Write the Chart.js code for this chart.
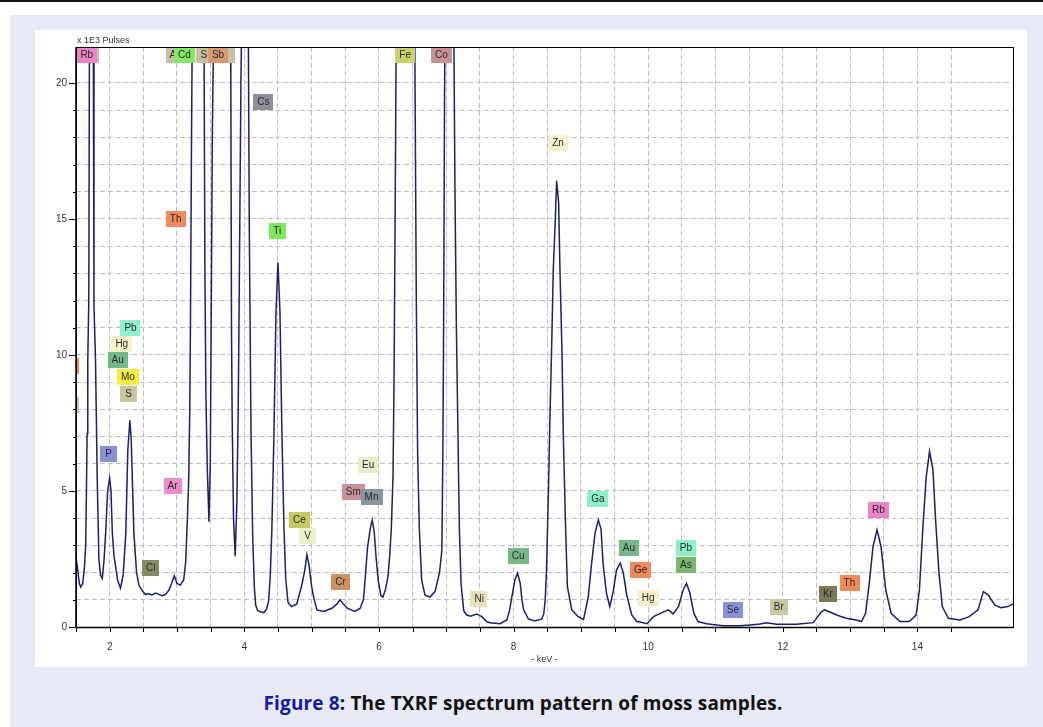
<!DOCTYPE html>
<html><head><meta charset="utf-8">
<script src="https://cdn.jsdelivr.net/npm/chart.js@4.4.1/dist/chart.umd.min.js"></script>
<style>
html,body{margin:0;padding:0;background:#fff;width:1043px;height:727px;overflow:hidden;}
#topline{position:absolute;left:0;top:0;width:1043px;height:2px;background:#111;}
#panel{position:absolute;left:10px;top:15px;width:1033px;height:712px;background:#e7eaf6;}
#box{position:absolute;left:35px;top:30px;width:992px;height:637px;background:#fff;}
#cap{position:absolute;left:0;width:1046px;top:690px;text-align:center;font:bold 19px "Open Sans";letter-spacing:0.15px;color:#111;}
#cap span{color:#1a1aa0}
</style></head>
<body>
<div id="topline"></div>
<div id="panel"></div>
<div id="box"><canvas id="c" width="992" height="637"></canvas></div>
<div id="cap"><span>Figure 8</span>: The TXRF spectrum pattern of moss samples.</div>
<script>
// Spectrum: energy (keV) and intensity (x 1E3 pulses); tall peaks run off the top of the plot
const energyKeV = [
 1.51,1.53,1.55,1.57,1.60,1.625,1.644,1.655,1.665,1.675,1.69,1.70,1.735,1.757,1.767,1.79,1.815,1.84,1.865,1.89,
 1.915,1.94,1.97,2.00,2.02,2.04,2.065,2.09,2.12,2.16,2.20,2.24,2.27,2.30,2.32,2.36,2.40,2.435,2.48,2.53,
 2.58,2.63,2.68,2.73,2.78,2.83,2.88,2.92,2.96,3.00,3.05,3.10,3.13,3.155,3.175,3.19,3.20,3.215,3.23,3.31,
 3.40,3.415,3.43,3.45,3.475,3.495,3.51,3.525,3.55,3.69,3.79,3.80,3.81,3.82,3.84,3.865,3.89,3.91,3.925,3.95,
 3.97,4.01,4.06,4.075,4.10,4.125,4.15,4.17,4.20,4.25,4.29,4.33,4.36,4.385,4.41,4.44,4.47,4.50,4.53,4.56,
 4.59,4.615,4.65,4.70,4.78,4.86,4.90,4.93,4.96,5.00,5.03,5.08,5.18,5.30,5.38,5.42,5.47,5.53,5.64,5.72,
 5.77,5.80,5.83,5.87,5.90,5.93,5.96,5.99,6.03,6.06,6.10,6.135,6.16,6.185,6.21,6.225,6.24,6.26,6.40,6.53,
 6.555,6.575,6.60,6.635,6.685,6.76,6.835,6.90,6.935,6.95,6.96,6.975,6.985,7.05,7.11,7.13,7.15,7.17,7.195,7.22,
 7.26,7.30,7.36,7.45,7.53,7.60,7.65,7.80,7.90,7.94,7.975,8.02,8.06,8.10,8.125,8.15,8.22,8.32,8.42,8.45,
 8.47,8.49,8.52,8.54,8.57,8.59,8.62,8.64,8.67,8.69,8.72,8.74,8.77,8.80,8.865,8.96,9.04,9.11,9.16,9.21,
 9.26,9.30,9.33,9.38,9.43,9.48,9.53,9.585,9.63,9.68,9.73,9.755,9.83,9.88,9.98,10.08,10.18,10.30,10.37,10.45,
 10.52,10.57,10.62,10.68,10.74,10.87,11.02,11.11,11.36,11.51,11.66,11.76,11.91,12.20,12.45,12.52,12.57,12.62,12.70,12.80,
 12.94,13.09,13.17,13.23,13.29,13.34,13.40,13.46,13.53,13.61,13.74,13.88,13.98,14.03,14.08,14.13,14.18,14.23,14.27,14.32,
 14.37,14.46,14.63,14.77,14.90,14.98,15.05,15.15,15.24,15.34,15.42
];
const pulses1E3 = [
 2.4,2.0,1.6,1.47,1.6,2.2,3.0,5.0,7.1,9.8,12.0,22,38,22,11.8,9.8,5.5,2.5,1.9,1.79,
 2.4,3.44,5.0,5.47,5.0,3.44,2.6,2.2,1.7,1.43,1.9,3.44,6.5,7.6,6.9,3.44,2.0,1.54,1.35,1.2,
 1.22,1.18,1.25,1.2,1.15,1.2,1.35,1.6,1.88,1.6,1.54,1.73,2.4,4.0,5.5,8.0,11.0,17.5,23,45,
 23,13.1,8.5,5.9,3.87,6.0,11.9,18,23,85,23,20.2,11,7.7,4.0,2.6,4.6,8.0,12.3,20,
 24,32,22,14.5,7.2,3.3,1.44,0.8,0.6,0.55,0.53,0.65,0.93,1.8,3.6,7.0,11.5,13.4,11.6,7.0,
 3.6,1.8,0.9,0.75,0.85,1.6,2.1,2.65,2.3,1.5,1.1,0.63,0.57,0.69,0.85,1.0,0.85,0.69,0.57,0.68,
 1.0,1.9,2.9,3.6,3.93,3.5,2.5,1.7,1.15,1.1,1.4,1.86,2.6,3.66,5.59,9.2,14.7,23,60,23,
 12.2,6.4,3.66,1.72,1.17,1.1,1.31,2.0,2.8,6.4,10.5,19.5,23,30,23,16,11.2,7.8,3.66,1.6,
 0.6,0.45,0.4,0.48,0.38,0.2,0.16,0.12,0.26,0.6,1.11,1.73,1.97,1.6,1.0,0.63,0.3,0.22,0.3,0.5,
 0.98,2.1,5.16,7.6,10.7,13.1,14.96,16.4,15.6,13.1,10.1,7.0,3.93,1.48,0.63,0.38,0.28,1.11,2.34,3.44,
 3.93,3.6,2.34,1.24,0.75,1.3,2.1,2.35,2.0,1.2,0.7,0.45,0.2,0.18,0.12,0.38,0.5,0.63,0.48,0.75,
 1.36,1.6,1.24,0.5,0.2,0.12,0.07,0.05,0.05,0.07,0.11,0.16,0.1,0.1,0.16,0.38,0.55,0.63,0.55,0.44,
 0.32,0.26,0.2,0.5,1.73,2.95,3.57,2.95,1.36,0.5,0.2,0.2,0.44,1.36,3.6,5.5,6.45,5.8,3.93,2.0,
 0.75,0.32,0.26,0.38,0.63,1.3,1.18,0.8,0.71,0.75,0.85
];

// Element tags (name, energy keV, level in 1E3 pulses), drawn in this order
const tagNames = ['Si','Rb','Ag','Cd','Sn','I','Sb','Cs','Th','Ti','Pb','Hg','Au','Mo','S','K','Al','P','Ar','Cl',
 'Eu','Sm','Mn','Ce','V','Cr','Fe','Co','Zn','Ni','Cu','Ga','Au','Ge','Hg','Pb','As','Se','Br','Kr','Th','Rb'];
const tagKeV = [1.71,1.66,2.98,3.11,3.44,3.73,3.61,4.285,2.98,4.49,2.31,2.18,2.12,2.27,2.28,1.42,1.42,1.985,2.935,2.61,
 5.84,5.62,5.89,4.82,4.94,5.43,6.39,6.93,8.66,7.49,8.07,9.255,9.715,9.89,10.0,10.56,10.56,11.26,11.94,12.67,12.99,13.42];
const tagLevel = [21.03,21.03,21.03,21.03,21.03,21.03,21.03,19.3,15.0,14.56,10.99,10.4,9.82,9.19,8.57,9.6,8.16,6.36,5.18,2.17,
 5.96,4.96,4.78,3.93,3.35,1.65,21.03,21.03,17.79,1.03,2.61,4.71,2.9,2.1,1.07,2.9,2.28,0.63,0.74,1.21,1.62,4.3];
const tagColors = ['#c8c0a0','#ee84c8','#c8c0a0','#84e864','#c8c0a0','#c8c0a0','#d89a72','#8c9098','#f08a5a','#7ce85c',
 '#8cf0c8','#f4f0c8','#74b88a','#f0f040','#c8c4a2','#f08a5a','#c4c8a0','#8890d8','#f08ac8','#868c62',
 '#e8ecc8','#c89098','#8c94a0','#c8c862','#ecf0c8','#d09062','#c8d070','#c89098','#f4f4cc','#e4e0b8',
 '#78b888','#8cf0c8','#74b88a','#f08a5a','#f4f0c8','#8cf0c8','#78b868','#8890d8','#c8c8a2','#7a7a5a','#f08a5a','#ee84c8'];

const xMin = 1.5, xMax = 15.42, yMin = 0, yMax = 21.32;

const points = energyKeV.map((e, i) => ({x: e, y: pulses1E3[i]}));

Chart.defaults.font.family = '"Liberation Sans", Arial, sans-serif';

const decor = {
  id: 'decor',
  afterDatasetsDraw(chart) {
    const {ctx, chartArea: a, scales: {x, y}} = chart;
    ctx.save();
    ctx.beginPath(); ctx.rect(a.left, a.top, a.right - a.left, a.bottom - a.top); ctx.clip();
    ctx.font = '10px "Liberation Sans", Arial, sans-serif';
    ctx.textAlign = 'center'; ctx.textBaseline = 'middle';
    tagNames.forEach((n, i) => {
      const cx = x.getPixelForValue(tagKeV[i]);
      const cy = y.getPixelForValue(tagLevel[i]);
      const w = Math.max(17, ctx.measureText(n).width + 8), h = 16;
      ctx.fillStyle = tagColors[i];
      ctx.fillRect(Math.round(cx - w / 2), Math.round(cy - h / 2), Math.round(w), h);
      ctx.fillStyle = '#2a2a2a';
      ctx.fillText(n, cx, cy + 0.5);
    });
    ctx.restore();
  },
  afterDraw(chart) {
    const {ctx, chartArea: a, scales: {x, y}} = chart;
    ctx.save();
    ctx.strokeStyle = '#000'; ctx.lineWidth = 1;
    ctx.beginPath();
    y.ticks.forEach(t => {
      const v = t.value;
      if (Math.abs(v - Math.round(v)) > 1e-6) return;
      const len = Math.round(v) % 5 === 0 ? 7 : 3;
      const py = Math.round(y.getPixelForValue(v)) + 0.5;
      ctx.moveTo(a.left - len, py); ctx.lineTo(a.left, py);
    });
    x.ticks.forEach(t => {
      const v = t.value;
      if (Math.abs(v * 2 - Math.round(v * 2)) > 1e-6) return;
      const px = Math.round(x.getPixelForValue(v)) + 0.5;
      ctx.moveTo(px, a.bottom); ctx.lineTo(px, a.bottom + 5);
    });
    ctx.stroke();
    ctx.strokeRect(Math.round(a.left) + 0.5, Math.round(a.top) + 0.5, Math.round(a.right - a.left), Math.round(a.bottom - a.top));
    ctx.lineWidth = 1.5;
    ctx.beginPath();
    ctx.moveTo(Math.round(a.left), a.top); ctx.lineTo(Math.round(a.left), a.bottom + 0.5);
    ctx.lineTo(a.right, a.bottom + 0.5);
    ctx.stroke();
    ctx.fillStyle = '#333';
    ctx.font = '9px "Liberation Sans", Arial, sans-serif';
    ctx.textAlign = 'left'; ctx.textBaseline = 'alphabetic';
    ctx.fillText('x 1E3 Pulses', a.left + 1, a.top - 4);
    ctx.restore();
  }
};

new Chart(document.getElementById('c'), {
  type: 'line',
  data: {
    datasets: [{
      data: points,
      borderColor: '#1e1e6e',
      borderWidth: 1.5,
      pointRadius: 0,
      tension: 0,
      fill: false
    }]
  },
  options: {
    responsive: false,
    animation: false,
    layout: {padding: {left: 0, top: 17, right: 13, bottom: 0}},
    plugins: {legend: {display: false}, tooltip: {enabled: false}},
    scales: {
      x: {
        type: 'linear', min: xMin, max: xMax,
        afterFit(s) { s.height = 40; },
        grid: {color: '#bdbdbd', lineWidth: 1, drawTicks: false},
        border: {display: false, dash: [5, 3]},
        ticks: {
          stepSize: 0.5, autoSkip: false, maxRotation: 0, padding: 14,
          color: '#333', font: {size: 10},
          callback(v) { const r = Math.round(v); return (Math.abs(v - r) < 1e-6 && r % 2 === 0) ? String(r) : ''; }
        },
        title: {display: true, text: '- keV -', color: '#333', font: {size: 9}, padding: {top: 0, bottom: 2}}
      },
      y: {
        type: 'linear', min: yMin, max: yMax,
        afterFit(s) { s.width = 41; },
        grid: {color: '#bdbdbd', lineWidth: 1, drawTicks: false},
        border: {display: false, dash: [5, 3]},
        ticks: {
          stepSize: 1, autoSkip: false, padding: 9,
          color: '#333', font: {size: 10},
          callback(v) { const r = Math.round(v); return (Math.abs(v - r) < 1e-6 && r % 5 === 0) ? String(r) : ''; }
        }
      }
    }
  },
  plugins: [decor]
});
</script>
</body></html>
